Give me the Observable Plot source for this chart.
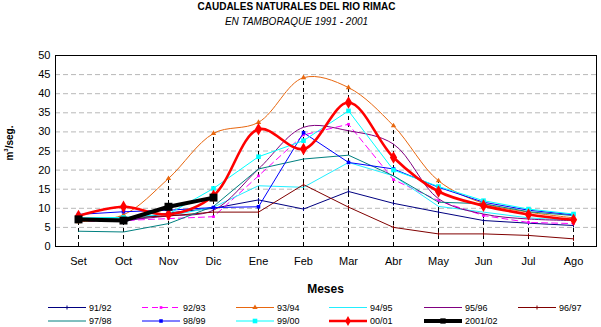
<!DOCTYPE html>
<html><head><meta charset="utf-8">
<script src="https://cdn.jsdelivr.net/npm/d3@7"></script>
<script src="https://cdn.jsdelivr.net/npm/@observablehq/plot@0.6"></script>
<style>
body{margin:0;background:#fff;font-family:"Liberation Sans",Arial,sans-serif}
#wrap{position:relative;width:601px;height:327px;overflow:hidden;background:#fff}
.abs{position:absolute;white-space:nowrap}
#t1{left:-4px;width:601px;top:0;text-align:center;font-weight:bold;font-size:10px;line-height:14px}
#t2{left:-4px;width:601px;top:14.5px;text-align:center;font-style:italic;font-size:10px;line-height:14px}
#xl{left:0;width:651px;top:282px;text-align:center;font-weight:bold;font-size:12px;line-height:14px}
#yl{left:-22px;top:134px;width:60px;text-align:center;font-weight:bold;font-size:10px;line-height:14px;transform:rotate(-90deg)}
#chart{position:absolute;left:0;top:0}
#legend{position:absolute;left:0;top:295px}
</style></head>
<body><div id="wrap">
<div id="chart"></div>
<div class="abs" id="t1">CAUDALES NATURALES DEL RIO RIMAC</div>
<div class="abs" id="t2">EN TAMBORAQUE 1991 - 2001</div>
<div class="abs" id="xl">Meses</div>
<div class="abs" id="yl">m<sup style="font-size:6px;vertical-align:5px">3</sup>/seg.</div>
<svg id="legend" width="601" height="32"></svg>
</div>
<script>
const months = ["Set","Oct","Nov","Dic","Ene","Feb","Mar","Abr","May","Jun","Jul","Ago"];
const yTicks = [0,5,10,15,20,25,30,35,40,45,50];
const seriesNames = ["91/92","92/93","93/94","94/95","95/96","96/97","97/98","98/99","99/00","00/01","2001/02"];
const v9192 = [7.5, 6.5, 8.8, 10.0, 12.2, 9.8, 14.4, 11.3, 9.0, 6.8, 6.1, 5.5];
const v9293 = [6.5, 6.8, 7.3, 7.8, 18.5, 29.2, 32.0, 17.5, 12.0, 8.1, 6.3, 6.0];
const v9394 = [6.5, 8.3, 17.8, 29.6, 32.5, 44.2, 41.6, 31.6, 17.2, 11.3, 9.0, 7.5];
const v9495 = [7.0, 7.5, 8.0, 10.3, 15.9, 15.5, 22.0, 18.5, 10.5, 9.0, 7.5, 6.8];
const v9596 = [7.0, 7.0, 8.0, 9.5, 20.3, 31.2, 30.3, 26.8, 12.5, 8.5, 7.2, 6.8];
const v9697 = [7.5, 7.5, 8.0, 9.0, 9.0, 16.2, 10.3, 5.0, 3.3, 3.3, 2.9, 2.0];
const v9798 = [4.0, 3.8, 6.0, 10.5, 20.3, 22.9, 23.9, 18.5, 11.6, 11.2, 9.1, 8.1];
const v9899 = [8.4, 9.1, 9.5, 10.2, 10.4, 29.8, 22.0, 20.3, 15.5, 11.6, 9.5, 8.3];
const v9900 = [7.5, 7.6, 8.5, 15.2, 23.5, 27.7, 35.5, 20.0, 15.7, 12.0, 9.8, 8.5];
const v0001 = [8.0, 10.4, 8.4, 13.3, 30.7, 25.5, 37.7, 23.3, 14.4, 10.7, 8.4, 7.0];
const v0102 = [7.1, 6.8, 10.4, 12.8, null, null, null, null, null, null, null, null];
const seriesValues = [v9192, v9293, v9394, v9495, v9596, v9697, v9798, v9899, v9900, v0001, v0102];

// styles (kept apart from the data)
const styles = {
  "91/92": {color:"#000080", w:1, curve:"linear", sym:"tick"},
  "92/93": {color:"#ff00ff", w:1, dash:"6,4", curve:"linear", sym:"square", r:1.5},
  "93/94": {color:"#e8670f", w:1, curve:"catmull-rom", sym:"triangle", r:2},
  "94/95": {color:"#22eeff", w:1, curve:"linear"},
  "95/96": {color:"#800080", w:1, curve:"catmull-rom"},
  "96/97": {color:"#800000", w:1, curve:"linear", sym:"tick"},
  "97/98": {color:"#008080", w:1, curve:"linear"},
  "98/99": {color:"#0000ff", w:1, curve:"linear", sym:"square", r:2},
  "99/00": {color:"#00ffff", w:1, curve:"linear", sym:"square", r:2.6},
  "00/01": {color:"#ff0000", w:2.6, curve:"catmull-rom", sym:"diamond", r:3.8},
  "2001/02": {color:"#000000", w:4, curve:"linear", sym:"square", r:4.5}
};
const tickSymbol = {draw(ctx, size){ const r = Math.sqrt(size/Math.PI); ctx.moveTo(0,-r); ctx.lineTo(0,r); }};

const series = seriesNames.map((n,k)=>({name:n, values:seriesValues[k]}));
const rowsOf = s => s.values.map((v,i)=>({serie:s.name, month:months[i], value:v})).filter(d=>d.value!=null);
const tops = months.map((m,i)=>({month:m, top:d3.max(series, s=>s.values[i])}));

const marks = [
  Plot.ruleY(yTicks.filter(t=>t>0 && t<50), {y:d=>d, stroke:"#b8b8b8", strokeDasharray:"5,3"}),
  Plot.ruleX(tops, {x:"month", y1:0, y2:"top", stroke:"#000", strokeDasharray:"4,3", strokeWidth:1})
];
for (const s of series) {
  const st = styles[s.name];
  const data = rowsOf(s);
  marks.push(Plot.line(data, {x:"month", y:"value", stroke:st.color, strokeWidth:st.w,
    strokeDasharray:st.dash, curve:st.curve, strokeLinejoin:"round"}));
  if (st.sym === "tick") {
    marks.push(Plot.dot(data, {x:"month", y:"value", symbol:tickSymbol, r:2, stroke:st.color, fill:"none", strokeWidth:1}));
  } else if (st.sym) {
    marks.push(Plot.dot(data, {x:"month", y:"value", symbol:st.sym, r:st.r, fill:st.color, stroke:"none"}));
  }
}
marks.push(Plot.frame({stroke:"#000", strokeWidth:1}));
marks.push(Plot.axisX({tickSize:0, tickPadding:11, fontSize:11, label:null}));
marks.push(Plot.axisY({ticks:yTicks, tickSize:0, tickPadding:5, fontSize:11, label:null}));

const chart = Plot.plot({
  width:601, height:327,
  marginLeft:55, marginRight:5, marginTop:55, marginBottom:81,
  style:{fontFamily:"'Liberation Sans', Arial, sans-serif", fontSize:"11px", color:"#000", background:"transparent"},
  x:{type:"point", domain:months, padding:0.5},
  y:{domain:[0,50]},
  marks
});
document.getElementById("chart").appendChild(chart);

// legend
const lg = d3.select("#legend");
const colX = [48, 142, 236, 329, 424, 518];
const rowY = [12.5, 26];
series.forEach((s,k)=>{
  const st = styles[s.name];
  const x0 = colX[k % 6], y0 = rowY[Math.floor(k/6)];
  lg.append("line").attr("x1",x0).attr("x2",x0+38).attr("y1",y0).attr("y2",y0)
    .attr("stroke",st.color).attr("stroke-width",st.w).attr("stroke-dasharray",st.dash||null);
  const cx = x0+19;
  if (st.sym === "tick") {
    lg.append("line").attr("x1",cx).attr("x2",cx).attr("y1",y0-2).attr("y2",y0+2).attr("stroke",st.color);
  } else if (st.sym) {
    const rr = Math.min(st.r, 3);
    const sym = {square:d3.symbolSquare, triangle:d3.symbolTriangle, diamond:d3.symbolDiamond}[st.sym];
    lg.append("path").attr("d", d3.symbol(sym, Math.PI*rr*rr)()).attr("transform",`translate(${cx},${y0})`).attr("fill",st.color);
  }
  lg.append("text").attr("x",x0+41).attr("y",y0).attr("dy","0.35em")
    .attr("font-size","9px").attr("font-family","'Liberation Sans', Arial, sans-serif").text(s.name);
});
</script>
</body></html>
